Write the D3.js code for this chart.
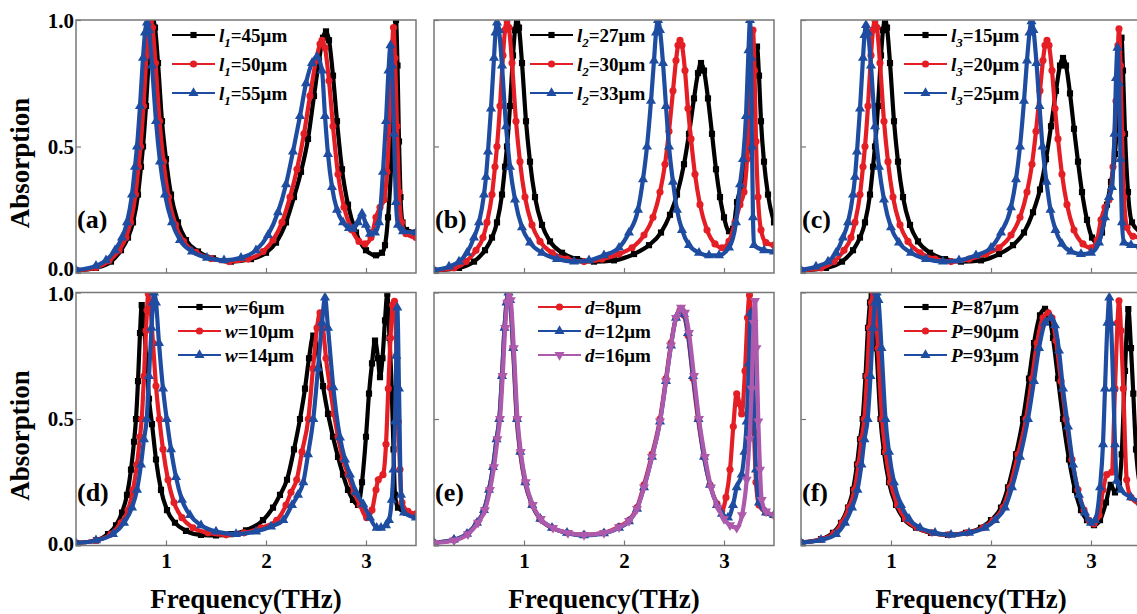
<!DOCTYPE html>
<html>
<head>
<meta charset="utf-8">
<script src="https://cdn.jsdelivr.net/npm/d3@7"></script>
<style>
  body { margin: 0; background: #fff; }
  svg { display: block; font-family: "Times New Roman", "Liberation Serif", serif; font-weight: bold; }
</style>
</head>
<body>
<svg id="chart" width="1137" height="614"></svg>
<script>
// absorption spectra, [frequency THz, absorption]

// (a) l1
const l1_45 = [[0.1,0.01],[0.3,0.02],[0.45,0.045],[0.55,0.09],[0.62,0.14],[0.67,0.2],[0.72,0.31],[0.75,0.42],[0.77,0.5],[0.8,0.66],[0.83,0.86],[0.85,0.96],[0.87,1.0],[0.89,0.97],[0.92,0.83],[0.96,0.6],[1.0,0.45],[1.05,0.31],[1.12,0.2],[1.2,0.13],[1.32,0.085],[1.47,0.058],[1.65,0.045],[1.85,0.055],[2.0,0.08],[2.1,0.12],[2.2,0.2],[2.28,0.3],[2.35,0.4],[2.42,0.53],[2.48,0.7],[2.53,0.84],[2.57,0.93],[2.6,0.955],[2.63,0.92],[2.67,0.78],[2.71,0.6],[2.76,0.41],[2.82,0.27],[2.9,0.16],[3.0,0.09],[3.1,0.07],[3.16,0.08],[3.19,0.11],[3.22,0.22],[3.255,0.47],[3.28,0.88],[3.3,1.0],[3.315,0.82],[3.33,0.52],[3.345,0.3],[3.365,0.2],[3.4,0.17],[3.5,0.16]];
const l1_50 = [[0.1,0.01],[0.3,0.022],[0.43,0.048],[0.53,0.09],[0.6,0.14],[0.645,0.2],[0.695,0.31],[0.725,0.42],[0.745,0.5],[0.775,0.66],[0.805,0.86],[0.825,0.96],[0.845,1.0],[0.865,0.97],[0.895,0.83],[0.935,0.6],[0.975,0.44],[1.025,0.3],[1.095,0.19],[1.175,0.125],[1.3,0.082],[1.45,0.057],[1.63,0.045],[1.82,0.055],[1.97,0.085],[2.07,0.13],[2.16,0.2],[2.24,0.3],[2.31,0.41],[2.38,0.55],[2.44,0.7],[2.5,0.84],[2.54,0.905],[2.56,0.92],[2.59,0.89],[2.63,0.76],[2.67,0.58],[2.72,0.39],[2.78,0.26],[2.86,0.17],[2.93,0.125],[2.99,0.115],[3.05,0.14],[3.1,0.22],[3.14,0.26],[3.18,0.29],[3.21,0.4],[3.24,0.65],[3.26,0.88],[3.275,0.97],[3.29,0.85],[3.31,0.58],[3.33,0.32],[3.355,0.2],[3.4,0.155],[3.5,0.14]];
const l1_55 = [[0.1,0.012],[0.3,0.028],[0.4,0.05],[0.49,0.09],[0.56,0.14],[0.61,0.2],[0.66,0.31],[0.69,0.42],[0.71,0.5],[0.74,0.66],[0.77,0.85],[0.79,0.95],[0.81,0.99],[0.83,0.96],[0.86,0.82],[0.9,0.6],[0.94,0.44],[0.99,0.31],[1.06,0.2],[1.14,0.13],[1.26,0.085],[1.41,0.06],[1.58,0.05],[1.75,0.06],[1.9,0.09],[2.02,0.15],[2.12,0.24],[2.2,0.35],[2.27,0.48],[2.34,0.62],[2.4,0.75],[2.46,0.83],[2.51,0.855],[2.56,0.8],[2.59,0.62],[2.62,0.47],[2.66,0.34],[2.71,0.25],[2.77,0.2],[2.83,0.178],[2.87,0.175],[2.92,0.2],[2.96,0.235],[3.0,0.19],[3.04,0.155],[3.09,0.16],[3.13,0.2],[3.17,0.4],[3.2,0.6],[3.225,0.8],[3.245,0.9],[3.26,0.82],[3.28,0.55],[3.3,0.28],[3.32,0.19],[3.37,0.165],[3.5,0.16]];

// (b) l2
const l2_27 = [[0.1,0.01],[0.35,0.02],[0.5,0.045],[0.61,0.09],[0.68,0.14],[0.73,0.2],[0.78,0.31],[0.81,0.42],[0.83,0.5],[0.86,0.66],[0.89,0.86],[0.91,0.96],[0.93,1.0],[0.95,0.97],[0.98,0.83],[1.02,0.6],[1.06,0.44],[1.11,0.3],[1.18,0.19],[1.26,0.125],[1.38,0.08],[1.53,0.055],[1.7,0.045],[1.9,0.05],[2.1,0.075],[2.25,0.11],[2.37,0.16],[2.46,0.23],[2.53,0.31],[2.6,0.43],[2.65,0.55],[2.7,0.69],[2.74,0.79],[2.77,0.83],[2.8,0.8],[2.84,0.69],[2.88,0.55],[2.92,0.41],[2.96,0.3],[3.0,0.22],[3.05,0.165],[3.09,0.175],[3.13,0.28],[3.17,0.34],[3.21,0.41],[3.25,0.52],[3.29,0.7],[3.315,0.85],[3.33,0.895],[3.35,0.78],[3.37,0.6],[3.4,0.44],[3.44,0.31],[3.5,0.2]];
const l2_30 = [[0.1,0.01],[0.3,0.02],[0.42,0.045],[0.52,0.09],[0.59,0.14],[0.63,0.2],[0.68,0.31],[0.71,0.42],[0.73,0.5],[0.76,0.66],[0.79,0.86],[0.81,0.96],[0.83,1.0],[0.85,0.97],[0.88,0.83],[0.92,0.6],[0.96,0.44],[1.01,0.3],[1.08,0.19],[1.16,0.125],[1.28,0.08],[1.43,0.055],[1.6,0.045],[1.78,0.055],[1.95,0.075],[2.08,0.1],[2.2,0.15],[2.29,0.22],[2.36,0.32],[2.41,0.43],[2.45,0.56],[2.49,0.72],[2.52,0.84],[2.54,0.9],[2.56,0.92],[2.58,0.9],[2.61,0.8],[2.64,0.65],[2.67,0.53],[2.71,0.39],[2.76,0.27],[2.83,0.17],[2.91,0.115],[2.98,0.1],[3.05,0.125],[3.11,0.2],[3.16,0.27],[3.2,0.32],[3.23,0.45],[3.255,0.68],[3.275,0.9],[3.29,0.96],[3.305,0.8],[3.32,0.52],[3.34,0.3],[3.37,0.17],[3.42,0.12],[3.5,0.11]];
const l2_33 = [[0.1,0.012],[0.25,0.025],[0.35,0.045],[0.43,0.08],[0.5,0.14],[0.55,0.2],[0.6,0.31],[0.62,0.38],[0.64,0.48],[0.67,0.65],[0.7,0.85],[0.715,0.95],[0.73,0.99],[0.75,0.96],[0.78,0.82],[0.82,0.58],[0.86,0.42],[0.91,0.29],[0.98,0.18],[1.06,0.12],[1.18,0.08],[1.33,0.055],[1.5,0.045],[1.65,0.05],[1.8,0.07],[1.95,0.1],[2.05,0.16],[2.14,0.25],[2.19,0.37],[2.23,0.5],[2.27,0.68],[2.3,0.84],[2.32,0.95],[2.34,1.0],[2.36,0.96],[2.39,0.83],[2.42,0.66],[2.45,0.5],[2.49,0.36],[2.53,0.25],[2.58,0.17],[2.65,0.11],[2.75,0.08],[2.85,0.07],[2.95,0.07],[3.05,0.1],[3.12,0.2],[3.16,0.35],[3.19,0.45],[3.22,0.62],[3.245,0.88],[3.26,1.0],[3.27,0.85],[3.28,0.5],[3.29,0.22],[3.3,0.11],[3.4,0.09],[3.5,0.085]];

// (c) l3
const l3_15 = [[0.1,0.01],[0.35,0.02],[0.51,0.045],[0.62,0.09],[0.69,0.14],[0.74,0.2],[0.79,0.31],[0.82,0.42],[0.84,0.5],[0.87,0.66],[0.9,0.86],[0.92,0.96],[0.94,1.0],[0.96,0.97],[0.99,0.83],[1.03,0.6],[1.07,0.44],[1.12,0.3],[1.19,0.19],[1.27,0.125],[1.39,0.08],[1.54,0.055],[1.7,0.045],[1.9,0.05],[2.08,0.075],[2.22,0.11],[2.33,0.16],[2.42,0.24],[2.49,0.33],[2.55,0.45],[2.6,0.58],[2.65,0.72],[2.69,0.82],[2.72,0.85],[2.75,0.82],[2.79,0.71],[2.83,0.57],[2.87,0.44],[2.91,0.32],[2.96,0.21],[3.01,0.14],[3.06,0.12],[3.11,0.16],[3.16,0.27],[3.2,0.36],[3.24,0.47],[3.27,0.65],[3.29,0.85],[3.305,0.93],[3.32,0.8],[3.34,0.55],[3.37,0.32],[3.41,0.2],[3.5,0.16]];
const l3_20 = [[0.1,0.01],[0.3,0.02],[0.43,0.045],[0.53,0.09],[0.6,0.14],[0.64,0.2],[0.69,0.31],[0.72,0.42],[0.74,0.5],[0.77,0.66],[0.8,0.86],[0.82,0.96],[0.84,1.0],[0.86,0.97],[0.89,0.83],[0.93,0.6],[0.97,0.44],[1.02,0.3],[1.09,0.19],[1.17,0.125],[1.29,0.08],[1.44,0.055],[1.6,0.045],[1.78,0.055],[1.95,0.075],[2.08,0.1],[2.2,0.15],[2.29,0.22],[2.36,0.32],[2.41,0.43],[2.45,0.56],[2.49,0.72],[2.52,0.84],[2.54,0.9],[2.56,0.92],[2.58,0.9],[2.61,0.8],[2.64,0.65],[2.67,0.53],[2.71,0.39],[2.76,0.27],[2.83,0.17],[2.92,0.115],[3.0,0.1],[3.06,0.13],[3.1,0.21],[3.14,0.26],[3.18,0.29],[3.22,0.42],[3.25,0.68],[3.27,0.9],[3.28,0.965],[3.295,0.82],[3.31,0.55],[3.33,0.3],[3.36,0.18],[3.42,0.145],[3.5,0.14]];
const l3_25 = [[0.1,0.012],[0.25,0.025],[0.37,0.045],[0.45,0.08],[0.52,0.14],[0.57,0.2],[0.62,0.31],[0.64,0.38],[0.66,0.48],[0.69,0.65],[0.72,0.85],[0.735,0.94],[0.75,0.98],[0.77,0.95],[0.8,0.82],[0.84,0.58],[0.88,0.42],[0.93,0.29],[1.0,0.18],[1.08,0.12],[1.2,0.08],[1.35,0.055],[1.52,0.045],[1.68,0.05],[1.85,0.07],[2.0,0.1],[2.1,0.16],[2.2,0.26],[2.25,0.37],[2.29,0.5],[2.33,0.68],[2.36,0.84],[2.385,0.95],[2.405,0.995],[2.425,0.96],[2.455,0.83],[2.485,0.66],[2.515,0.5],[2.555,0.36],[2.595,0.25],[2.645,0.17],[2.71,0.115],[2.8,0.085],[2.9,0.075],[3.0,0.08],[3.08,0.12],[3.14,0.22],[3.18,0.3],[3.21,0.34],[3.235,0.55],[3.25,0.77],[3.265,0.89],[3.28,0.75],[3.295,0.45],[3.31,0.2],[3.33,0.12],[3.4,0.11],[3.5,0.105]];

// (d) w
const w_6 = [[0.1,0.01],[0.3,0.02],[0.42,0.045],[0.5,0.08],[0.56,0.13],[0.61,0.2],[0.65,0.3],[0.68,0.41],[0.7,0.5],[0.72,0.65],[0.74,0.84],[0.757,0.95],[0.775,0.9],[0.8,0.75],[0.83,0.58],[0.86,0.48],[0.9,0.34],[0.95,0.22],[1.01,0.14],[1.09,0.09],[1.2,0.058],[1.35,0.042],[1.5,0.04],[1.65,0.045],[1.8,0.06],[1.97,0.1],[2.07,0.15],[2.14,0.2],[2.21,0.26],[2.28,0.38],[2.34,0.5],[2.39,0.62],[2.43,0.74],[2.473,0.83],[2.51,0.78],[2.57,0.63],[2.62,0.52],[2.67,0.43],[2.72,0.35],[2.77,0.28],[2.82,0.22],[2.87,0.18],[2.92,0.16],[2.96,0.25],[3.0,0.43],[3.03,0.6],[3.06,0.72],[3.09,0.81],[3.12,0.74],[3.14,0.665],[3.165,0.74],[3.19,0.89],[3.213,0.995],[3.235,0.82],[3.257,0.62],[3.275,0.38],[3.29,0.2],[3.32,0.15],[3.4,0.13],[3.5,0.12]];
const w_10 = [[0.1,0.01],[0.3,0.02],[0.45,0.045],[0.55,0.09],[0.62,0.14],[0.67,0.22],[0.71,0.32],[0.74,0.43],[0.757,0.5],[0.78,0.67],[0.8,0.85],[0.81,0.93],[0.823,0.995],[0.84,0.96],[0.87,0.8],[0.9,0.63],[0.933,0.5],[0.97,0.38],[1.02,0.26],[1.08,0.17],[1.16,0.11],[1.27,0.07],[1.42,0.05],[1.6,0.042],[1.78,0.05],[1.95,0.07],[2.107,0.1],[2.2,0.16],[2.25,0.21],[2.307,0.26],[2.36,0.37],[2.423,0.5],[2.47,0.7],[2.51,0.86],[2.54,0.92],[2.57,0.86],[2.6,0.74],[2.64,0.625],[2.68,0.52],[2.72,0.43],[2.77,0.34],[2.82,0.28],[2.88,0.21],[2.94,0.16],[3.007,0.11],[3.06,0.14],[3.1,0.22],[3.123,0.26],[3.17,0.28],[3.2,0.4],[3.223,0.62],[3.245,0.82],[3.267,0.95],[3.285,0.965],[3.305,0.75],[3.323,0.49],[3.34,0.3],[3.36,0.17],[3.42,0.135],[3.5,0.125]];
const w_14 = [[0.1,0.01],[0.3,0.02],[0.47,0.045],[0.58,0.09],[0.66,0.15],[0.71,0.22],[0.75,0.32],[0.78,0.42],[0.807,0.5],[0.83,0.67],[0.855,0.86],[0.87,0.96],[0.88,1.0],[0.9,0.96],[0.93,0.8],[0.97,0.62],[1.007,0.5],[1.05,0.38],[1.1,0.27],[1.16,0.18],[1.24,0.12],[1.35,0.08],[1.5,0.055],[1.7,0.045],[1.9,0.055],[2.05,0.075],[2.173,0.1],[2.26,0.16],[2.32,0.2],[2.373,0.25],[2.42,0.36],[2.473,0.5],[2.52,0.7],[2.56,0.88],[2.59,0.98],[2.62,0.86],[2.673,0.625],[2.74,0.427],[2.79,0.34],[2.84,0.28],[2.9,0.21],[2.973,0.163],[3.04,0.11],[3.107,0.07],[3.15,0.07],[3.2,0.08],[3.23,0.1],[3.257,0.18],[3.275,0.3],[3.29,0.49],[3.303,0.75],[3.313,0.94],[3.33,0.62],[3.35,0.2],[3.38,0.13],[3.5,0.11]];

// (e) d
const d_8 = [[0.1,0.012],[0.3,0.022],[0.43,0.045],[0.53,0.09],[0.6,0.14],[0.65,0.22],[0.69,0.31],[0.725,0.42],[0.753,0.5],[0.78,0.67],[0.805,0.86],[0.825,0.96],[0.843,1.0],[0.86,0.97],[0.89,0.78],[0.927,0.5],[0.96,0.37],[1.01,0.25],[1.08,0.16],[1.16,0.105],[1.28,0.07],[1.43,0.05],[1.6,0.042],[1.8,0.05],[1.95,0.075],[2.05,0.1],[2.13,0.15],[2.2,0.24],[2.28,0.36],[2.36,0.5],[2.42,0.66],[2.47,0.8],[2.52,0.9],[2.56,0.93],[2.6,0.91],[2.64,0.83],[2.69,0.66],[2.74,0.5],[2.8,0.35],[2.86,0.24],[2.93,0.165],[2.977,0.137],[3.02,0.19],[3.06,0.3],[3.093,0.47],[3.127,0.6],[3.155,0.56],[3.177,0.52],[3.21,0.69],[3.235,0.9],[3.255,0.99],[3.275,0.8],[3.3,0.45],[3.32,0.25],[3.35,0.16],[3.42,0.13],[3.5,0.12]];
const d_12 = [[0.1,0.012],[0.3,0.023],[0.43,0.046],[0.53,0.09],[0.6,0.14],[0.65,0.22],[0.69,0.31],[0.725,0.42],[0.753,0.5],[0.78,0.67],[0.805,0.86],[0.825,0.96],[0.845,1.0],[0.862,0.97],[0.892,0.78],[0.93,0.5],[0.963,0.37],[1.013,0.25],[1.083,0.16],[1.163,0.105],[1.28,0.07],[1.43,0.05],[1.6,0.04],[1.8,0.048],[1.95,0.07],[2.05,0.095],[2.13,0.145],[2.2,0.23],[2.28,0.35],[2.36,0.49],[2.42,0.65],[2.47,0.79],[2.52,0.9],[2.565,0.93],[2.6,0.915],[2.64,0.84],[2.69,0.67],[2.745,0.5],[2.8,0.35],[2.86,0.24],[2.93,0.16],[2.98,0.125],[3.04,0.11],[3.09,0.16],[3.127,0.23],[3.177,0.28],[3.205,0.37],[3.227,0.49],[3.25,0.72],[3.267,0.92],[3.28,0.85],[3.3,0.55],[3.32,0.3],[3.35,0.17],[3.42,0.13],[3.5,0.12]];
const d_16 = [[0.1,0.01],[0.3,0.02],[0.44,0.045],[0.54,0.09],[0.61,0.14],[0.66,0.22],[0.7,0.31],[0.735,0.42],[0.76,0.5],[0.787,0.67],[0.812,0.86],[0.832,0.96],[0.85,1.0],[0.868,0.97],[0.898,0.78],[0.935,0.5],[0.968,0.37],[1.018,0.25],[1.088,0.16],[1.168,0.105],[1.29,0.07],[1.44,0.05],[1.6,0.042],[1.8,0.05],[1.95,0.072],[2.05,0.097],[2.13,0.145],[2.2,0.23],[2.28,0.35],[2.36,0.49],[2.42,0.65],[2.47,0.79],[2.52,0.9],[2.57,0.94],[2.61,0.92],[2.65,0.84],[2.7,0.67],[2.75,0.5],[2.81,0.35],[2.87,0.23],[2.94,0.15],[3.0,0.105],[3.06,0.08],[3.127,0.07],[3.18,0.12],[3.227,0.26],[3.255,0.42],[3.277,0.62],[3.295,0.88],[3.31,0.967],[3.325,0.78],[3.343,0.49],[3.36,0.3],[3.377,0.18],[3.42,0.135],[3.5,0.12]];

// (f) P
const P_87 = [[0.1,0.012],[0.3,0.025],[0.42,0.05],[0.5,0.09],[0.57,0.15],[0.62,0.22],[0.66,0.32],[0.69,0.42],[0.717,0.5],[0.745,0.67],[0.77,0.86],[0.79,0.96],[0.807,1.0],[0.825,0.97],[0.855,0.78],[0.895,0.5],[0.93,0.37],[0.98,0.25],[1.05,0.16],[1.13,0.105],[1.25,0.07],[1.4,0.05],[1.57,0.042],[1.75,0.05],[1.9,0.07],[2.0,0.1],[2.1,0.15],[2.17,0.23],[2.25,0.36],[2.32,0.5],[2.38,0.66],[2.43,0.8],[2.49,0.91],[2.54,0.935],[2.58,0.91],[2.62,0.82],[2.67,0.66],[2.72,0.5],[2.78,0.34],[2.84,0.22],[2.9,0.14],[2.96,0.1],[3.03,0.08],[3.09,0.1],[3.15,0.17],[3.197,0.24],[3.24,0.21],[3.28,0.24],[3.307,0.36],[3.34,0.69],[3.373,0.934],[3.4,0.78],[3.423,0.6],[3.45,0.38],[3.5,0.22]];
const P_90 = [[0.1,0.012],[0.3,0.024],[0.43,0.048],[0.51,0.09],[0.58,0.15],[0.635,0.22],[0.675,0.32],[0.705,0.42],[0.733,0.5],[0.76,0.67],[0.785,0.86],[0.805,0.96],[0.823,1.0],[0.84,0.97],[0.87,0.78],[0.91,0.5],[0.945,0.37],[0.995,0.25],[1.065,0.16],[1.145,0.105],[1.26,0.07],[1.41,0.05],[1.58,0.042],[1.76,0.05],[1.92,0.07],[2.02,0.1],[2.12,0.15],[2.19,0.23],[2.27,0.36],[2.35,0.5],[2.41,0.66],[2.46,0.8],[2.52,0.9],[2.573,0.92],[2.61,0.9],[2.65,0.81],[2.7,0.65],[2.75,0.5],[2.81,0.34],[2.87,0.22],[2.93,0.14],[2.98,0.1],[3.03,0.085],[3.08,0.12],[3.12,0.22],[3.157,0.28],[3.207,0.29],[3.24,0.62],[3.265,0.88],[3.28,0.967],[3.3,0.85],[3.323,0.62],[3.357,0.26],[3.4,0.19],[3.5,0.16]];
const P_93 = [[0.1,0.012],[0.3,0.022],[0.45,0.045],[0.54,0.09],[0.61,0.15],[0.665,0.22],[0.705,0.32],[0.735,0.42],[0.767,0.5],[0.795,0.67],[0.82,0.86],[0.84,0.96],[0.857,1.0],[0.875,0.97],[0.905,0.78],[0.945,0.5],[0.98,0.37],[1.03,0.25],[1.1,0.16],[1.18,0.105],[1.29,0.07],[1.44,0.05],[1.6,0.042],[1.78,0.05],[1.94,0.07],[2.04,0.1],[2.14,0.15],[2.21,0.23],[2.29,0.35],[2.37,0.5],[2.43,0.65],[2.48,0.78],[2.54,0.88],[2.6,0.9],[2.64,0.87],[2.68,0.77],[2.72,0.62],[2.77,0.47],[2.82,0.32],[2.88,0.2],[2.94,0.13],[3.0,0.09],[3.04,0.1],[3.09,0.23],[3.12,0.4],[3.14,0.62],[3.165,0.88],[3.183,0.98],[3.2,0.88],[3.223,0.62],[3.24,0.4],[3.257,0.256],[3.3,0.22],[3.4,0.19],[3.5,0.17]];

// labels
const panelTags = ['(a)', '(b)', '(c)', '(d)', '(e)', '(f)'];
const xTicks = [1, 2, 3];
const yTicks = [0, 0.5, 1];
const yTickLabels = ['0.0', '0.5', '1.0'];

const colors = { black: '#000000', red: '#e41e25', blue: '#1e4ca0', purple: '#ad5aad' };

const panels = [
  { col: 0, row: 0, lx: 96, series: [
    { data: l1_45, color: 'black', shape: 'square', name: ['l', '1', '=45μm'] },
    { data: l1_50, color: 'red', shape: 'circle', name: ['l', '1', '=50μm'] },
    { data: l1_55, color: 'blue', shape: 'up', name: ['l', '1', '=55μm'] }] },
  { col: 1, row: 0, lx: 96, series: [
    { data: l2_27, color: 'black', shape: 'square', name: ['l', '2', '=27μm'] },
    { data: l2_30, color: 'red', shape: 'circle', name: ['l', '2', '=30μm'] },
    { data: l2_33, color: 'blue', shape: 'up', name: ['l', '2', '=33μm'] }] },
  { col: 2, row: 0, lx: 103, series: [
    { data: l3_15, color: 'black', shape: 'square', name: ['l', '3', '=15μm'] },
    { data: l3_20, color: 'red', shape: 'circle', name: ['l', '3', '=20μm'] },
    { data: l3_25, color: 'blue', shape: 'up', name: ['l', '3', '=25μm'] }] },
  { col: 0, row: 1, lx: 102, series: [
    { data: w_6, color: 'black', shape: 'square', name: ['w', '', '=6μm'] },
    { data: w_10, color: 'red', shape: 'circle', name: ['w', '', '=10μm'] },
    { data: w_14, color: 'blue', shape: 'up', name: ['w', '', '=14μm'] }] },
  { col: 1, row: 1, lx: 104, series: [
    { data: d_8, color: 'red', shape: 'circle', name: ['d', '', '=8μm'] },
    { data: d_12, color: 'blue', shape: 'up', name: ['d', '', '=12μm'] },
    { data: d_16, color: 'purple', shape: 'down', name: ['d', '', '=16μm'] }] },
  { col: 2, row: 1, lx: 103, series: [
    { data: P_87, color: 'black', shape: 'square', name: ['P', '', '=87μm'] },
    { data: P_90, color: 'red', shape: 'circle', name: ['P', '', '=90μm'] },
    { data: P_93, color: 'blue', shape: 'up', name: ['P', '', '=93μm'] }] }
];

const W = 340, H = 253;
const colLeft = [76, 434, 801];
const rowTop = [20, 292.5];
const legendRows = [[15, 44, 73], [14.5, 38.5, 62.5]];
// vertical nudge of the y tick labels so the 0.0 / 1.0 pair between the rows don't collide
const yLabelShift = [{ 0: -4, 0.5: 0, 1: 1 }, { 0: -2, 0.5: 0, 1: 1 }];

const x = d3.scaleLinear().domain([0.1, 3.5]).range([0, W]);
const y = d3.scaleLinear().domain([0, 1]).range([H, 0]);

const symbols = {
  square: d3.symbol(d3.symbolSquare, 38),
  circle: d3.symbol(d3.symbolCircle, 40),
  up: d3.symbol(d3.symbolTriangle, 44),
  down: d3.symbol(d3.symbolTriangle, 44)
};
const rot = s => s === 'down' ? ' rotate(180)' : '';

const svg = d3.select('#chart');
const line = d3.line().x(d => x(d[0])).y(d => y(d[1])).curve(d3.curveMonotoneX);

panels.forEach((p, i) => {
  const g = svg.append('g').attr('transform', `translate(${colLeft[p.col]},${rowTop[p.row]})`);

  g.append('clipPath').attr('id', 'clip' + i)
    .append('rect').attr('width', W).attr('height', H);
  const plot = g.append('g').attr('clip-path', `url(#clip${i})`);

  p.series.forEach(s => {
    plot.append('path').datum(s.data)
      .attr('d', line)
      .attr('fill', 'none')
      .attr('stroke', colors[s.color])
      .attr('stroke-width', 4.2)
      .attr('stroke-linejoin', 'round');
    plot.selectAll(null).data(s.data).enter().append('path')
      .attr('d', symbols[s.shape])
      .attr('transform', d => `translate(${x(d[0])},${y(d[1])})${rot(s.shape)}`)
      .attr('fill', colors[s.color]);
  });

  // frame
  g.append('rect').attr('width', W).attr('height', H)
    .attr('fill', 'none').attr('stroke', '#777').attr('stroke-width', 1.5);

  // inward ticks
  const xa = g.append('g').attr('transform', `translate(0,${H})`)
    .call(d3.axisBottom(x).tickValues(xTicks).tickSizeInner(-5).tickSizeOuter(0).tickPadding(8)
      .tickFormat(p.row === 1 ? d3.format('d') : () => ''));
  xa.select('.domain').remove();
  xa.selectAll('line').attr('stroke', '#777').attr('stroke-width', 1.2);
  xa.selectAll('text').attr('font-size', 21).attr('fill', '#000');
  xa.attr('font-family', null);

  const ya = g.append('g')
    .call(d3.axisLeft(y).tickValues(yTicks).tickSizeInner(-5).tickSizeOuter(0).tickPadding(2)
      .tickFormat((d, k) => p.col === 0 ? yTickLabels[k] : ''));
  ya.select('.domain').remove();
  ya.selectAll('line').attr('stroke', '#777').attr('stroke-width', 1.2);
  ya.selectAll('text').attr('font-size', 21).attr('fill', '#000')
    .attr('y', d => yLabelShift[p.row][d]);
  ya.attr('font-family', null);

  // panel tag
  g.append('text').attr('x', 1).attr('y', 208).attr('font-size', 26).text(panelTags[i]);

  // legend
  p.series.forEach((s, k) => {
    const ly = legendRows[p.row][k];
    g.append('line').attr('x1', p.lx).attr('x2', p.lx + 43).attr('y1', ly).attr('y2', ly)
      .attr('stroke', colors[s.color]).attr('stroke-width', 2.2);
    g.append('path').attr('d', symbols[s.shape])
      .attr('transform', `translate(${p.lx + 21.5},${ly})${rot(s.shape)}`)
      .attr('fill', colors[s.color]);
    const t = g.append('text').attr('x', p.lx + 47).attr('y', ly + 6.5).attr('font-size', 19);
    t.append('tspan').attr('font-style', 'italic').text(s.name[0]);
    if (s.name[1]) {
      t.append('tspan').attr('font-style', 'italic').attr('font-size', 13).attr('dy', 5).text(s.name[1]);
      t.append('tspan').attr('dy', -5).text(s.name[2]);
    } else {
      t.append('tspan').text(s.name[2]);
    }
  });

  // axis titles
  if (p.col === 0) {
    svg.append('text')
      .attr('transform', `translate(29,${rowTop[p.row] + 143}) rotate(-90)`)
      .attr('text-anchor', 'middle').attr('font-size', 27).text('Absorption');
  }
  if (p.row === 1) {
    svg.append('text')
      .attr('x', colLeft[p.col] + W / 2).attr('y', 608)
      .attr('text-anchor', 'middle').attr('font-size', 27).text('Frequency(THz)');
  }
});
</script>
</body>
</html>
